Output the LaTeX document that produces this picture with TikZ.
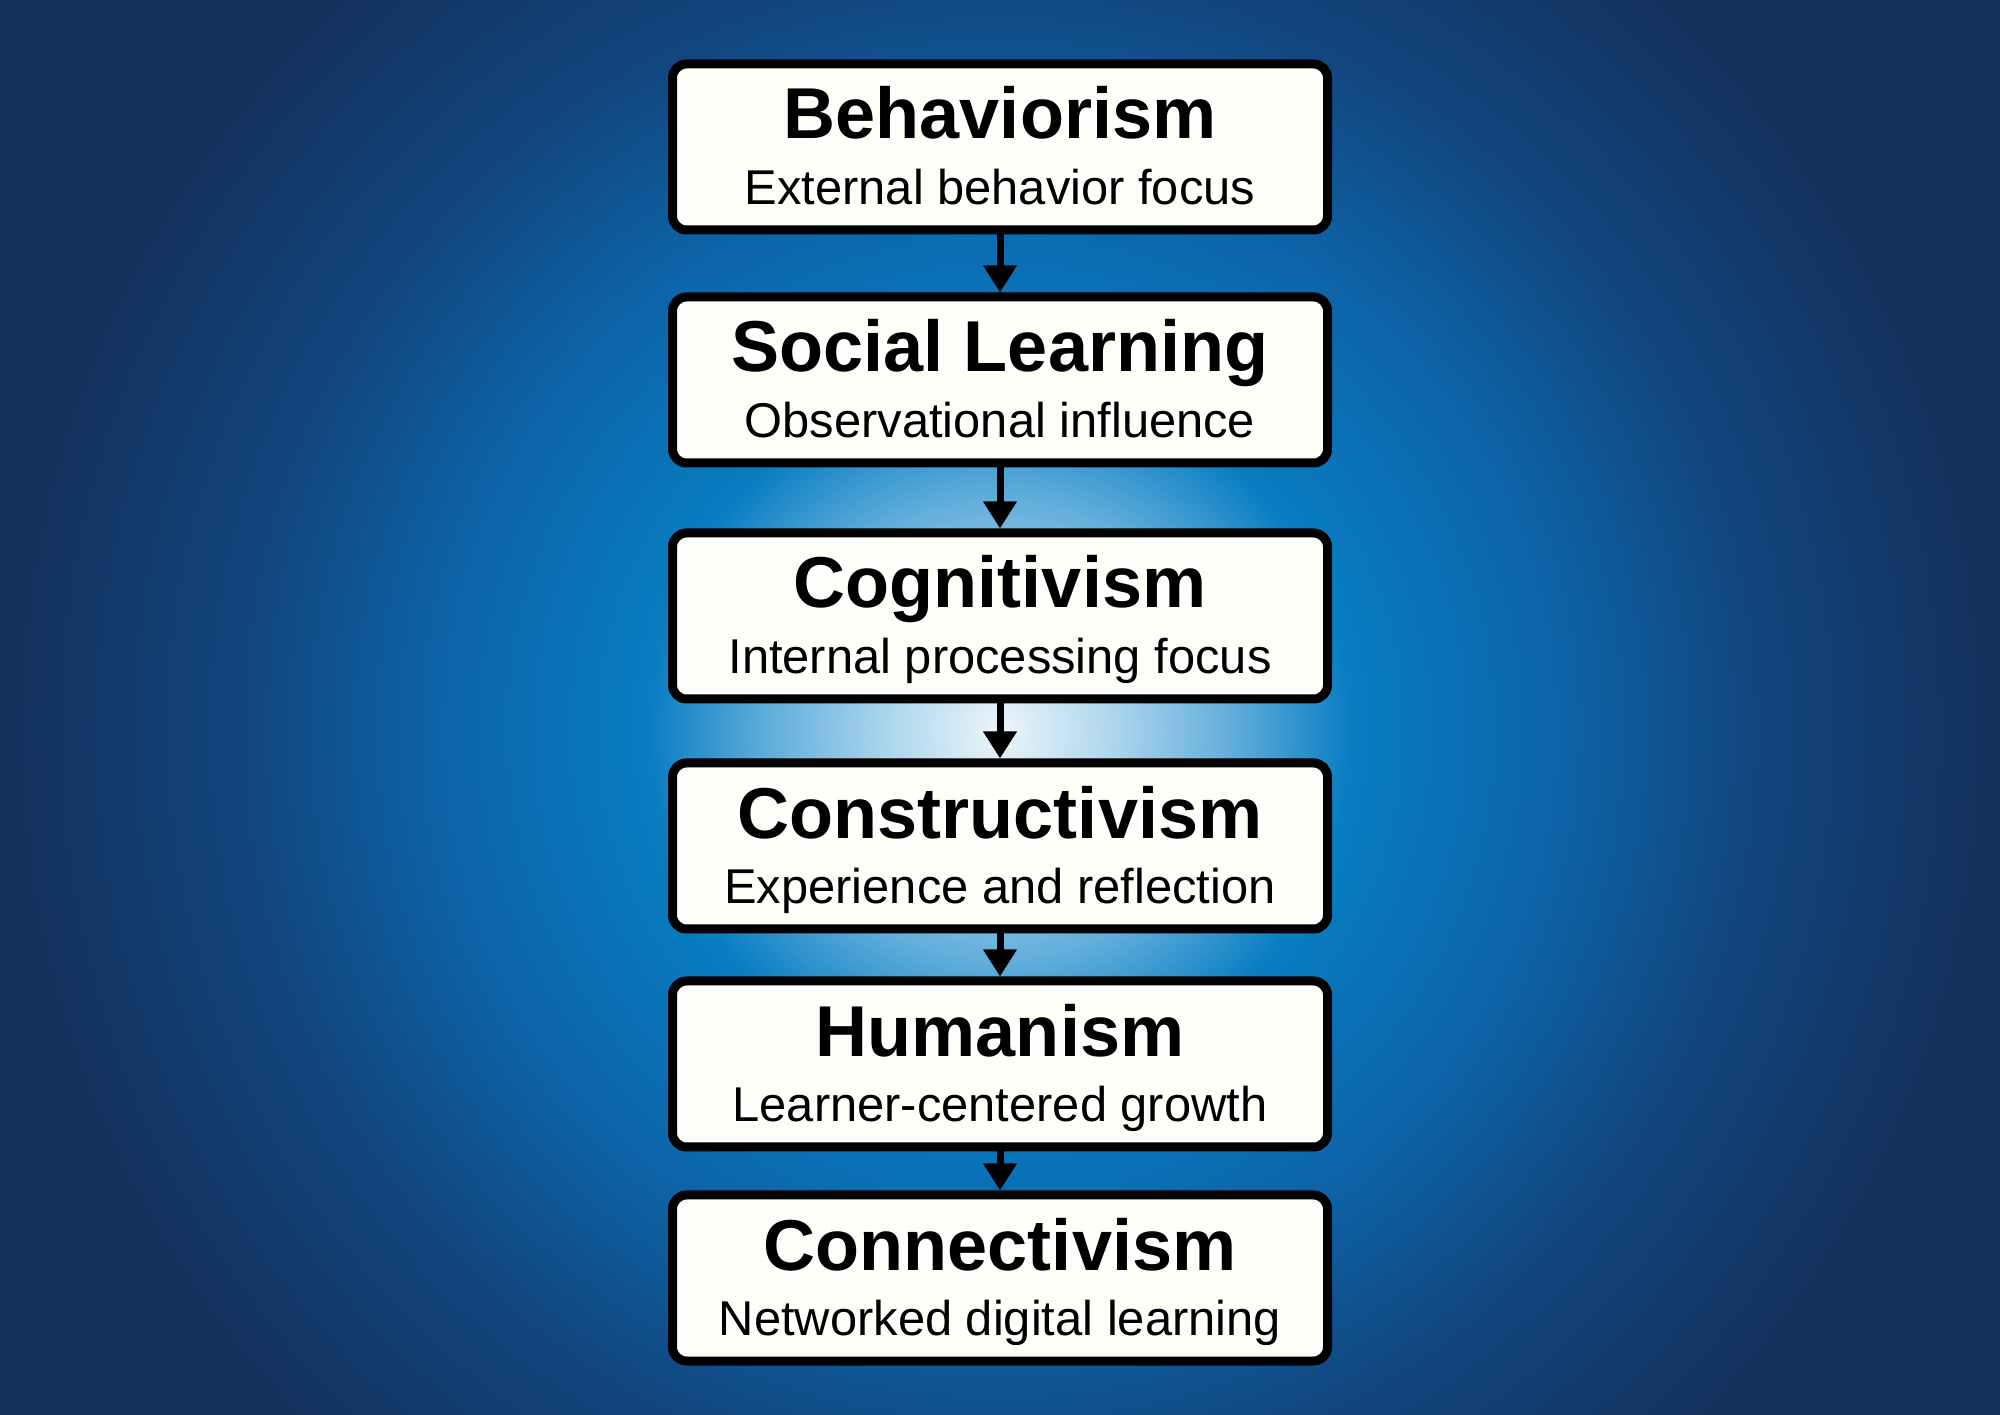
\documentclass[tikz,border=0pt]{standalone}
\usepackage{fontspec}
\setmainfont{Liberation Sans}
\usetikzlibrary{arrows.meta}
\definecolor{glowcore}{rgb}{0.93,0.96,0.98}
\definecolor{glowsoft}{rgb}{0.68,0.84,0.93}
\definecolor{glowlight}{rgb}{0.38,0.68,0.86}
\definecolor{glowblue}{rgb}{0.03,0.49,0.76}
\definecolor{midblue}{rgb}{0.05,0.39,0.66}
\definecolor{deepblue}{rgb}{0.07,0.27,0.49}
\definecolor{navyblue}{rgb}{0.08,0.19,0.36}
\definecolor{boxwhite}{rgb}{0.995,0.995,0.985}

\pgfdeclareradialshading{bgglow}{\pgfpoint{0bp}{0bp}}{%
  color(0bp)=(glowcore); color(2.8bp)=(glowsoft); color(5.8bp)=(glowlight);
  color(8.8bp)=(glowblue); color(14bp)=(midblue); color(19bp)=(deepblue);
  color(25bp)=(navyblue); color(50bp)=(navyblue)}

\newcommand{\stagetext}[2]{\begin{tabular}{@{}c@{}}%
  \rule{0pt}{19.5pt}{\bfseries\fontsize{20.5}{24}\selectfont #1}\\#2\end{tabular}}

\begin{document}
\begin{tikzpicture}[
  stage/.style={draw=black,line width=0.09cm,fill=boxwhite,rounded corners=0.14cm,
                minimum width=6.55cm,minimum height=1.66cm,inner sep=0pt,
                font=\fontsize{13.9}{18.5}\selectfont},
  flow/.style={-{Triangle[width=0.32cm,length=0.27cm]},line width=0.07cm,black}]

\useasboundingbox (0,0) rectangle (20,14.14);

% blue glow behind the column
\fill [navyblue] (-0.2,-0.2) rectangle (20.2,14.34);
\begin{scope}
\clip (-0.2,-0.2) rectangle (20.2,14.34);
\shade [shading=bgglow] (10,6.84) circle (10);
\end{scope}

% the stages
\node [stage] (behav) at (10,12.67) {\stagetext{Behaviorism}{External behavior focus}};
\node [stage] (social) at (10,10.34) {\stagetext{Social Learning}{Observational influence}};
\node [stage] (cognit) at (10,7.98) {\stagetext{Cognitivism}{Internal processing focus}};
\node [stage] (construct) at (10,5.68) {\stagetext{Constructivism}{Experience and reflection}};
\node [stage] (human) at (10,3.50) {\stagetext{Humanism}{Learner-centered growth}};
\node [stage] (connect) at (10,1.36) {\stagetext{Connectivism}{Networked digital learning}};

% arrows down the column
\draw [flow] (behav) -- (social);
\draw [flow] (social) -- (cognit);
\draw [flow] (cognit) -- (construct);
\draw [flow] (construct) -- (human);
\draw [flow] (human) -- (connect);

\end{tikzpicture}
\end{document}
